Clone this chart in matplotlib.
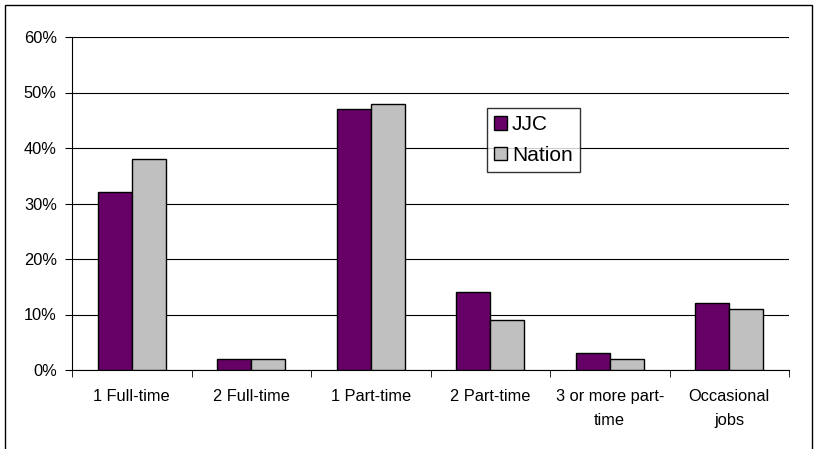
import matplotlib
matplotlib.use("Agg")
import matplotlib.pyplot as plt
from matplotlib.patches import Rectangle
import numpy as np

categories = ["1 Full-time", "2 Full-time", "1 Part-time", "2 Part-time",
              "3 or more part-\ntime", "Occasional\njobs"]
jjc = [32, 2, 47, 14, 3, 12]
nation = [38, 2, 48, 9, 2, 11]
yticks = [0, 10, 20, 30, 40, 50, 60]

plt.rcParams['font.family'] = ['Liberation Sans', 'DejaVu Sans']

fig = plt.figure(figsize=(8.26, 4.49), dpi=100)
ax = fig.add_axes([72/826, 1-370/449, (789-72)/826, (370-37)/449])

# figure border
fig.patches.append(Rectangle((5/826, -0.1), (812-5)/826, 1.1 - 5/449,
                             transform=fig.transFigure, fill=False,
                             edgecolor='black', linewidth=1.0))

x = np.arange(len(categories))
w = 0.285
ax.bar(x - w/2, jjc, w, color='#660066', edgecolor='black', linewidth=1.0,
       label='JJC', zorder=3)
ax.bar(x + w/2, nation, w, color='#C0C0C0', edgecolor='black', linewidth=1.0,
       label='Nation', zorder=3)

ax.set_xlim(-0.5, len(categories) - 0.5)
ax.set_ylim(0, 60)
ax.set_yticks(yticks)
ax.set_yticklabels([f"{v}%" for v in yticks], fontsize=11.8)
ax.yaxis.grid(True, color='black', linewidth=0.8, zorder=0)
ax.set_axisbelow(True)

ax.set_xticks(x)
ax.set_xticklabels(categories, fontsize=11.8)
for t in ax.get_xticklabels():
    t.set_linespacing(1.75)
ax.tick_params(axis='x', length=0, pad=14)
ax.set_xticks(np.arange(len(categories) + 1) - 0.5, minor=True)
ax.tick_params(axis='x', which='minor', length=5, color='black')
ax.tick_params(axis='y', length=5, color='black', pad=6)

for s in ['top', 'right']:
    ax.spines[s].set_visible(False)
ax.spines['left'].set_color('black')
ax.spines['bottom'].set_color('black')

leg = ax.legend(loc='upper left', bbox_to_anchor=((487-72)/717, 1-(108-37)/333),
                fontsize=15, frameon=True, fancybox=False, edgecolor='black',
                handlelength=0.6, handleheight=0.6, handletextpad=0.25,
                borderpad=0.35, labelspacing=0.55, borderaxespad=0)
leg.get_frame().set_linewidth(1.0)

fig.savefig("out.png", dpi=100)
